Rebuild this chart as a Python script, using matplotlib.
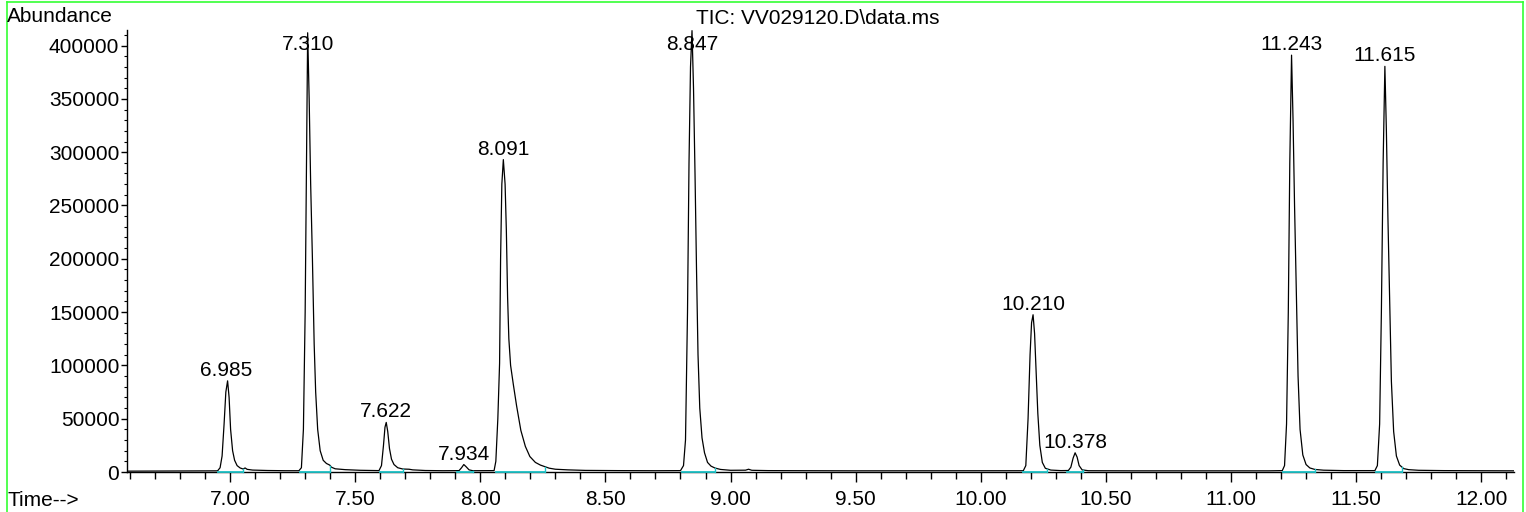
import numpy as np
import matplotlib
matplotlib.use("Agg")
import matplotlib.pyplot as plt
from matplotlib.ticker import MultipleLocator, FormatStrFormatter
from matplotlib.lines import Line2D

plt.rcParams["font.family"] = ["Liberation Sans", "DejaVu Sans"]

# TIC trace (time in min, abundance)
time_min = [
    6.59, 6.70, 6.80, 6.90, 6.950, 6.960, 6.968, 6.976, 6.983, 6.990, 6.996,
    7.002, 7.010, 7.018, 7.028, 7.040, 7.052, 7.060, 7.068, 7.09, 7.15, 7.22,
    7.275, 7.285, 7.293, 7.300, 7.305, 7.310, 7.316, 7.322, 7.329, 7.336,
    7.342, 7.350, 7.360, 7.372, 7.385, 7.398, 7.405, 7.420, 7.46, 7.52,
    7.595, 7.605, 7.613, 7.619, 7.624, 7.630, 7.637, 7.645, 7.655, 7.670,
    7.690, 7.715, 7.730, 7.78, 7.85, 7.915, 7.925, 7.934, 7.943, 7.955, 7.97,
    8.02, 8.055, 8.062, 8.070, 8.077, 8.081, 8.086, 8.092, 8.099, 8.104,
    8.109, 8.114, 8.121, 8.132, 8.145, 8.162, 8.180, 8.198, 8.220, 8.240,
    8.258, 8.275, 8.30, 8.35, 8.42, 8.55, 8.70, 8.80, 8.812, 8.820, 8.828,
    8.834, 8.840, 8.846, 8.852, 8.858, 8.864, 8.870, 8.877, 8.886, 8.896,
    8.908, 8.922, 8.938, 8.96, 9.00, 9.06, 9.072, 9.085, 9.15, 9.30, 9.50,
    9.70, 9.90, 10.10, 10.170, 10.180, 10.189, 10.197, 10.203, 10.209,
    10.215, 10.221, 10.228, 10.236, 10.246, 10.258, 10.28, 10.32, 10.350,
    10.360, 10.369, 10.377, 10.385, 10.393, 10.405, 10.43, 10.60, 10.80,
    11.00, 11.15, 11.205, 11.214, 11.222, 11.229, 11.235, 11.242, 11.248,
    11.254, 11.261, 11.268, 11.276, 11.287, 11.300, 11.315, 11.335, 11.37,
    11.45, 11.575, 11.585, 11.594, 11.601, 11.608, 11.615, 11.621, 11.627,
    11.634, 11.641, 11.650, 11.661, 11.674, 11.690, 11.710, 11.75, 11.85,
    12.00, 12.13,
]
abundance = [
    800, 900, 900, 1000, 1100, 4000, 15000, 45000, 75000, 85500, 70000,
    40000, 20000, 11000, 6000, 3800, 2800, 3800, 2500, 1800, 1400, 1200,
    1200, 4000, 40000, 150000, 280000, 412000, 350000, 270000, 200000, 120000,
    75000, 40000, 20000, 11000, 8000, 6500, 4500, 3000, 2200, 1600,
    1300, 6000, 25000, 42000, 46500, 38000, 22000, 12000, 7000, 4000,
    2800, 2600, 2000, 1400, 1200, 1300, 4000, 7000, 5000, 2000, 1200,
    1200, 1300, 10000, 50000, 102000, 200000, 270000, 293000, 270000, 227000,
    164000, 125000, 100000, 82000, 62000, 39000, 24000, 14500, 9000, 6500,
    5000, 3600, 2600, 2000, 1500, 1300, 1200, 1300, 6000, 30000, 150000,
    290000, 380000, 414000, 360000, 280000, 190000, 110000, 60000, 32000, 18000,
    9000, 5500, 3700, 2400, 1600, 1700, 2600, 1600, 1300, 1200, 1100,
    1100, 1100, 1100, 1200, 6000, 50000, 110000, 140000, 147500,
    130000, 95000, 55000, 25000, 9000, 3500, 1800, 1300, 1400,
    4500, 13000, 18000, 14000, 6000, 2000, 1200, 1100, 1100,
    1100, 1100, 1300, 6000, 45000, 150000, 290000, 391000, 330000,
    250000, 170000, 90000, 40000, 16000, 7000, 3800, 2400, 1700,
    1300, 1300, 6000, 45000, 150000, 290000, 380500, 320000, 240000,
    160000, 85000, 38000, 15000, 6500, 3200, 2200, 1600, 1300,
    1200, 1100,
]

# peak labels and integration windows
peak_labels = ["6.985", "7.310", "7.622", "7.934", "8.091",
               "8.847", "10.210", "10.378", "11.243", "11.615"]
int_start = [6.952, 7.280, 7.600, 7.905, 8.062, 8.805, 10.170, 10.343, 11.206, 11.580]
int_end = [7.052, 7.400, 7.690, 7.970, 8.258, 8.938, 10.265, 10.410, 11.335, 11.685]

fig = plt.figure(figsize=(15.26, 5.12), dpi=100)
W, H = 1526, 512
ax = fig.add_axes([127 / W, 1 - 472 / H, (1514 - 127) / W, (472 - 30) / H])

t = np.array(time_min)
a = np.array(abundance)
ax.plot(t, a, color="black", lw=0.9, zorder=3)

# integration baselines
cyan = "#20c4c8"
for s, e in zip(int_start, int_end):
    ax.plot([s, e], [0, 0], color=cyan, lw=1.3, zorder=4, clip_on=False)
    ax.plot([e, e], [0, np.interp(e, t, a)], color=cyan, lw=1.0, zorder=4, clip_on=False)

ax.set_xlim(6.588, 12.131)
ax.set_ylim(0, 414600)

for lab in peak_labels:
    rt = float(lab)
    win = (t > rt - 0.02) & (t < rt + 0.02)
    top = a[win].max()
    ax.text(rt, min(top + 4700, 396000), lab, ha="center", va="baseline",
            fontsize=15, zorder=5)

for side in ["top", "right"]:
    ax.spines[side].set_visible(False)
for side in ["left", "bottom"]:
    ax.spines[side].set_linewidth(1.0)

ax.xaxis.set_major_locator(MultipleLocator(0.5))
ax.xaxis.set_minor_locator(MultipleLocator(0.1))
ax.xaxis.set_major_formatter(FormatStrFormatter("%.2f"))
ax.yaxis.set_major_locator(MultipleLocator(50000))
ax.yaxis.set_minor_locator(MultipleLocator(10000))
ax.yaxis.set_major_formatter(FormatStrFormatter("%d"))
ax.tick_params(axis="x", which="major", length=7, width=1, pad=6, labelsize=15)
ax.tick_params(axis="x", which="minor", length=5, width=1)
ax.tick_params(axis="y", which="major", length=4, width=1, pad=1.5, labelsize=15)
ax.tick_params(axis="y", which="minor", length=2, width=0.8)

fig.text(7 / W, 1 - 16 / H, "Abundance", fontsize=15, ha="left", va="center")
fig.text(7 / W, 1 - 501 / H, "Time-->", fontsize=15, ha="left", va="center")
fig.text(818 / W, 1 - 18 / H, "TIC: VV029120.D\\data.ms", fontsize=15,
         ha="center", va="center")

# green frame round the plot window
green = "#33ff33"
for xs, ys in [([7, 7], [2, 520]), ([7, 1523], [2, 2]), ([1523, 1523], [2, 520])]:
    fig.add_artist(Line2D([x / W for x in xs], [1 - y / H for y in ys],
                          color=green, lw=1.2))

fig.savefig("out.png", dpi=100)
